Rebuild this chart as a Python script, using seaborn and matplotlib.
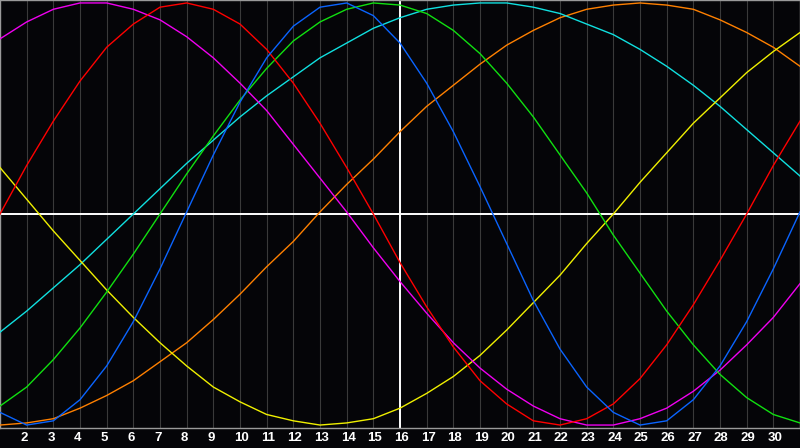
import pandas as pd
import matplotlib
matplotlib.use("Agg")
import matplotlib.pyplot as plt
import seaborn as sns

# --- data: daily cycle values (day 1..31) ---
days = list(range(1, 32))

physical = [-0.94, -1.00, -0.98, -0.88, -0.72, -0.51, -0.26, 0.01, 0.28, 0.53,
            0.74, 0.89, 0.98, 1.00, 0.94, 0.81, 0.62, 0.39, 0.13, -0.14,
            -0.41, -0.64, -0.82, -0.94, -1.00, -0.98, -0.88, -0.72, -0.51, -0.26,
            0.01]
emotional = [0.00, 0.23, 0.44, 0.63, 0.79, 0.90, 0.98, 1.00, 0.97, 0.90,
             0.78, 0.62, 0.43, 0.22, 0.00, -0.23, -0.44, -0.63, -0.79, -0.90,
             -0.98, -1.00, -0.97, -0.90, -0.78, -0.62, -0.43, -0.22, 0.00, 0.23,
             0.44]
intellectual = [-0.91, -0.82, -0.69, -0.54, -0.37, -0.19, 0.00, 0.19, 0.37, 0.54,
                0.69, 0.82, 0.91, 0.97, 1.00, 0.99, 0.95, 0.87, 0.76, 0.62,
                0.46, 0.28, 0.10, -0.10, -0.28, -0.46, -0.62, -0.76, -0.87, -0.95,
                -0.99]
intuitive = [0.83, 0.91, 0.97, 1.00, 1.00, 0.97, 0.92, 0.84, 0.74, 0.62,
             0.49, 0.33, 0.17, 0.01, -0.16, -0.32, -0.47, -0.61, -0.73, -0.83,
             -0.91, -0.97, -1.00, -1.00, -0.97, -0.92, -0.84, -0.74, -0.62, -0.49,
             -0.33]
aesthetic = [0.22, 0.07, -0.08, -0.22, -0.36, -0.49, -0.61, -0.72, -0.82, -0.89,
             -0.95, -0.98, -1.00, -0.99, -0.97, -0.92, -0.85, -0.77, -0.67, -0.55,
             -0.42, -0.29, -0.14, 0.00, 0.15, 0.29, 0.43, 0.55, 0.67, 0.77,
             0.86]
awareness = [-1.00, -0.99, -0.97, -0.92, -0.86, -0.79, -0.70, -0.61, -0.50, -0.38,
             -0.25, -0.13, 0.01, 0.14, 0.26, 0.39, 0.51, 0.61, 0.71, 0.80,
             0.87, 0.93, 0.97, 0.99, 1.00, 0.99, 0.97, 0.92, 0.86, 0.79,
             0.70]
spiritual = [-0.56, -0.46, -0.35, -0.24, -0.12, 0.00, 0.12, 0.24, 0.35, 0.46,
             0.56, 0.65, 0.74, 0.81, 0.88, 0.93, 0.97, 0.99, 1.00, 1.00,
             0.98, 0.95, 0.90, 0.85, 0.78, 0.70, 0.61, 0.51, 0.40, 0.29,
             0.18]

tick_days = list(range(2, 31))
tick_labels = [str(d) for d in tick_days]
today = 16

palette = {
    "physical": "#0a64ff",
    "emotional": "#ff0000",
    "intellectual": "#10e010",
    "intuitive": "#f000f0",
    "aesthetic": "#f0f000",
    "awareness": "#ff8000",
    "spiritual": "#10e0e0",
}
bg = "#050508"

df = pd.DataFrame({
    "day": days,
    "awareness": awareness,
    "spiritual": spiritual,
    "aesthetic": aesthetic,
    "intuitive": intuitive,
    "intellectual": intellectual,
    "emotional": emotional,
    "physical": physical,
}).melt(id_vars="day", var_name="cycle", value_name="value")

# --- figure ---
fig = plt.figure(figsize=(8, 4.48), dpi=100)
fig.patch.set_facecolor(bg)
ax = fig.add_axes([0, 20 / 448, 1, 428 / 448])
ax.set_facecolor(bg)

for d in tick_days:
    ax.axvline(d, color="#3a3a3a", lw=0.8, zorder=1)
ax.axhline(0, color="white", lw=1.4, zorder=2)
ax.axvline(today, color="white", lw=1.4, zorder=2)

sns.lineplot(data=df, x="day", y="value", hue="cycle", palette=palette,
             legend=False, lw=1.0, ax=ax, zorder=3)

ax.set_xlim(1, 31)
ax.set_ylim(-1.014, 1.014)
# labels start ~6px left of their gridline
day_px = 800 / 30
ax.set_xticks([d - 6 / day_px for d in tick_days])
ax.set_xticklabels(tick_labels, ha="left", color="white", fontweight="bold",
                   fontsize=9.5, family="Liberation Sans")
ax.tick_params(axis="x", length=0, pad=2.8)
ax.set_yticks([])
ax.set_xlabel("")
ax.set_ylabel("")
for s in ax.spines.values():
    s.set_color("#9a9a9a")
    s.set_linewidth(1.0)

fig.savefig("out.png", dpi=100, facecolor=bg)
